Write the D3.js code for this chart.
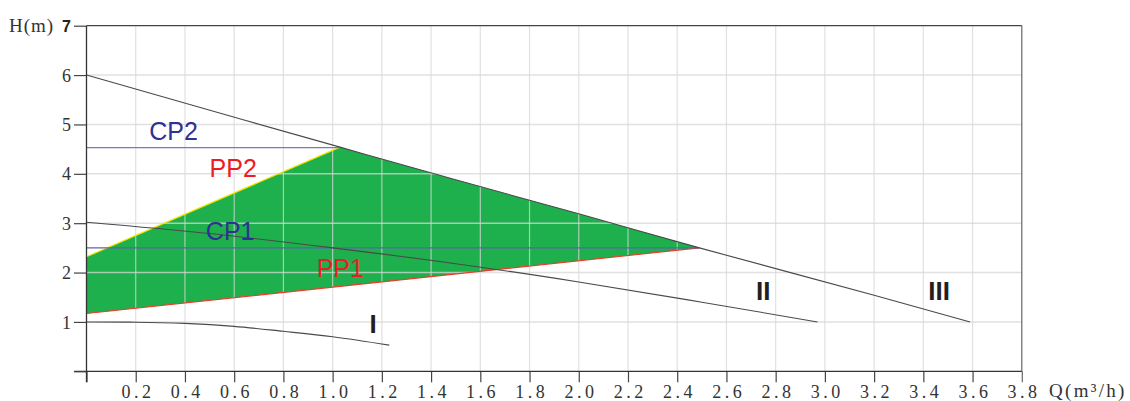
<!DOCTYPE html>
<html><head><meta charset="utf-8">
<script src="https://cdn.jsdelivr.net/npm/d3@7"></script>
<style>
html,body{margin:0;padding:0;background:#fff;}
svg{display:block;}
</style></head>
<body>
<svg id="chart" width="1130" height="401"></svg>
<script>
// ---- data ----
const xTicks = [0, 0.2, 0.4, 0.6, 0.8, 1.0, 1.2, 1.4, 1.6, 1.8, 2.0, 2.2, 2.4, 2.6, 2.8, 3.0, 3.2, 3.4, 3.6, 3.8];
const xTickLabels = ["", "0.2", "0.4", "0.6", "0.8", "1.0", "1.2", "1.4", "1.6", "1.8", "2.0", "2.2", "2.4", "2.6", "2.8", "3.0", "3.2", "3.4", "3.6", "3.8"];
const yTicks = [0, 1, 2, 3, 4, 5, 6, 7];
const yTickLabels = ["", "1", "2", "3", "4", "5", "6", "7"];
const curveI = [[0, 1.0], [0.2, 0.995], [0.4, 0.97], [0.6, 0.91], [0.8, 0.81], [1.0, 0.70], [1.23, 0.53]];
const curveII = [[0, 3.02], [0.5, 2.79], [1.0, 2.5], [1.5, 2.18], [2.0, 1.81], [2.5, 1.40], [2.97, 1.0]];
const curveIII = [[0, 6.0], [0.64, 5.09], [1.03, 4.54], [1.5, 3.88], [2.0, 3.19], [2.49, 2.5], [3.2, 1.54], [3.59, 1.0]];
const pp1 = [[0, 1.17], [2.49, 2.5]];
const pp2 = [[0, 2.32], [1.03, 4.54]];
const cp1 = [[0, 2.5], [2.49, 2.5]];
const cp2 = [[0, 4.53], [1.03, 4.53]];
const curveLabels = [
  {text: "I", q: 1.15, h: 0.78},
  {text: "II", q: 2.72, h: 1.44},
  {text: "III", q: 3.42, h: 1.44}
];
const modeLabels = [
  {text: "CP2", q: 0.255, h: 4.69, color: "#2e3192"},
  {text: "PP2", q: 0.50, h: 3.93, color: "#ed1c24"},
  {text: "CP1", q: 0.485, h: 2.66, color: "#2e3192"},
  {text: "PP1", q: 0.935, h: 1.90, color: "#ed1c24"}
];

// ---- scales ----
const svg = d3.select("#chart");
const x = d3.scaleLinear().domain([0, 3.8]).range([86.5, 1021.8]);
const y = d3.scaleLinear().domain([0, 7]).range([371.3, 25.7]);
const line = d3.line().x(d => x(d[0])).y(d => y(d[1]));
const smooth = d3.line().x(d => x(d[0])).y(d => y(d[1])).curve(d3.curveMonotoneX);

// ---- green operating region ----
const topIII = curveIII.filter(d => d[0] >= 1.03 && d[0] <= 2.49);
const region = [...pp2, ...topIII.slice(1), ...pp1.slice().reverse()];
svg.append("path").attr("d", line(region) + "Z").attr("fill", "#1eb04c");

// ---- grid ----
const grid = svg.append("g").attr("stroke", "rgba(215,215,215,0.75)");
grid.selectAll("line.v").data(xTicks.filter(v => v > 0 && v < 3.8)).join("line")
  .attr("x1", d => x(d)).attr("x2", d => x(d)).attr("y1", y(7)).attr("y2", y(0)).attr("stroke-width", 1.2);
grid.selectAll("line.h").data(yTicks.filter(v => v > 0 && v < 7)).join("line")
  .attr("x1", x(0)).attr("x2", x(3.8)).attr("y1", d => y(d)).attr("y2", d => y(d)).attr("stroke-width", 1.5);

// ---- frame (top/right) ----
svg.append("line").attr("x1", x(0)).attr("x2", x(3.8)).attr("y1", y(7)).attr("y2", y(7)).attr("stroke", "#444").attr("stroke-width", 1.2);
svg.append("line").attr("x1", x(3.8)).attr("x2", x(3.8)).attr("y1", y(7)).attr("y2", y(0)).attr("stroke", "#666").attr("stroke-width", 1.2);

// ---- region edges ----
svg.append("path").attr("d", line(pp2)).attr("fill", "none").attr("stroke", "#f3e500").attr("stroke-width", 1.2);
svg.append("path").attr("d", line(pp1)).attr("fill", "none").attr("stroke", "#ee3a2a").attr("stroke-width", 1.1);

// ---- constant pressure lines ----
svg.append("path").attr("d", line(cp2)).attr("fill", "none").attr("stroke", "#7579bd").attr("stroke-width", 1.4);
svg.append("path").attr("d", line(cp1)).attr("fill", "none").attr("stroke", "#5d62b0").attr("stroke-width", 1.4);

// ---- pump curves ----
[curveI, curveII, curveIII].forEach(c => {
  svg.append("path").attr("d", smooth(c)).attr("fill", "none").attr("stroke", "#4a4a4a").attr("stroke-width", 1.1);
});

// ---- axes ----
const xAxis = d3.axisBottom(x).tickValues(xTicks).tickFormat((d, i) => xTickLabels[i]).tickSizeInner(11).tickSizeOuter(0).tickPadding(3);
const gx = svg.append("g").attr("transform", `translate(0,${y(0)})`).call(xAxis);
gx.select(".domain").remove();
gx.append("line").attr("x1", x(0) - 12.5).attr("x2", x(3.8)).attr("y1", 0).attr("y2", 0).attr("stroke", "#333").attr("stroke-width", 1.3);
gx.selectAll(".tick line").attr("stroke", d => d === 3.8 ? "#666" : "#444").attr("stroke-width", 1.2);
gx.selectAll(".tick text")
  .attr("font-family", "'Liberation Serif', 'DejaVu Serif', serif").attr("font-size", 18).attr("fill", "#333")
  .attr("letter-spacing", "3.5px").attr("dx", 1.8).attr("dy", "0.71em");

const yAxis = d3.axisLeft(y).tickValues(yTicks).tickFormat((d, i) => yTickLabels[i]).tickSizeInner(12.5).tickSizeOuter(0).tickPadding(3);
const gy = svg.append("g").attr("transform", `translate(${x(0)},0)`).call(yAxis);
gy.select(".domain").remove();
gy.append("line").attr("x1", 0).attr("x2", 0).attr("y1", y(7)).attr("y2", y(0) + 11).attr("stroke", "#333").attr("stroke-width", 1.3);
gy.selectAll(".tick line").attr("stroke", "#444").attr("stroke-width", 1.2);
gy.selectAll(".tick text")
  .attr("font-family", "'Liberation Serif', 'DejaVu Serif', serif").attr("font-size", 18).attr("fill", "#333")
  .attr("dy", "0.34em");
gy.selectAll(".tick").filter(d => d === 7).select("text")
  .attr("font-family", "'Liberation Sans', Arial, sans-serif").attr("font-weight", "bold").attr("font-size", 16).attr("fill", "#222");

// ---- axis titles ----
svg.append("text").attr("x", 9).attr("y", 31.7).text("H(m)")
  .attr("font-family", "'Liberation Serif', 'DejaVu Serif', serif").attr("font-size", 19).attr("fill", "#333").attr("letter-spacing", "1px");
svg.append("text").attr("x", 1049).attr("y", 396.5).text("Q(m³/h)")
  .attr("font-family", "'Liberation Serif', 'DejaVu Serif', serif").attr("font-size", 19).attr("fill", "#333").attr("letter-spacing", "2.3px");

// ---- labels ----
svg.selectAll("text.mode").data(modeLabels).join("text").attr("class", "mode")
  .attr("x", d => x(d.q)).attr("y", d => y(d.h)).text(d => d.text)
  .attr("font-family", "'Liberation Sans', Arial, sans-serif").attr("font-size", 25).attr("fill", d => d.color);
svg.selectAll("text.curve").data(curveLabels).join("text").attr("class", "curve")
  .attr("x", d => x(d.q)).attr("y", d => y(d.h)).text(d => d.text)
  .attr("font-family", "'Liberation Sans', Arial, sans-serif").attr("font-weight", "bold").attr("font-size", 26).attr("fill", "#231f20");
</script>
</body></html>
